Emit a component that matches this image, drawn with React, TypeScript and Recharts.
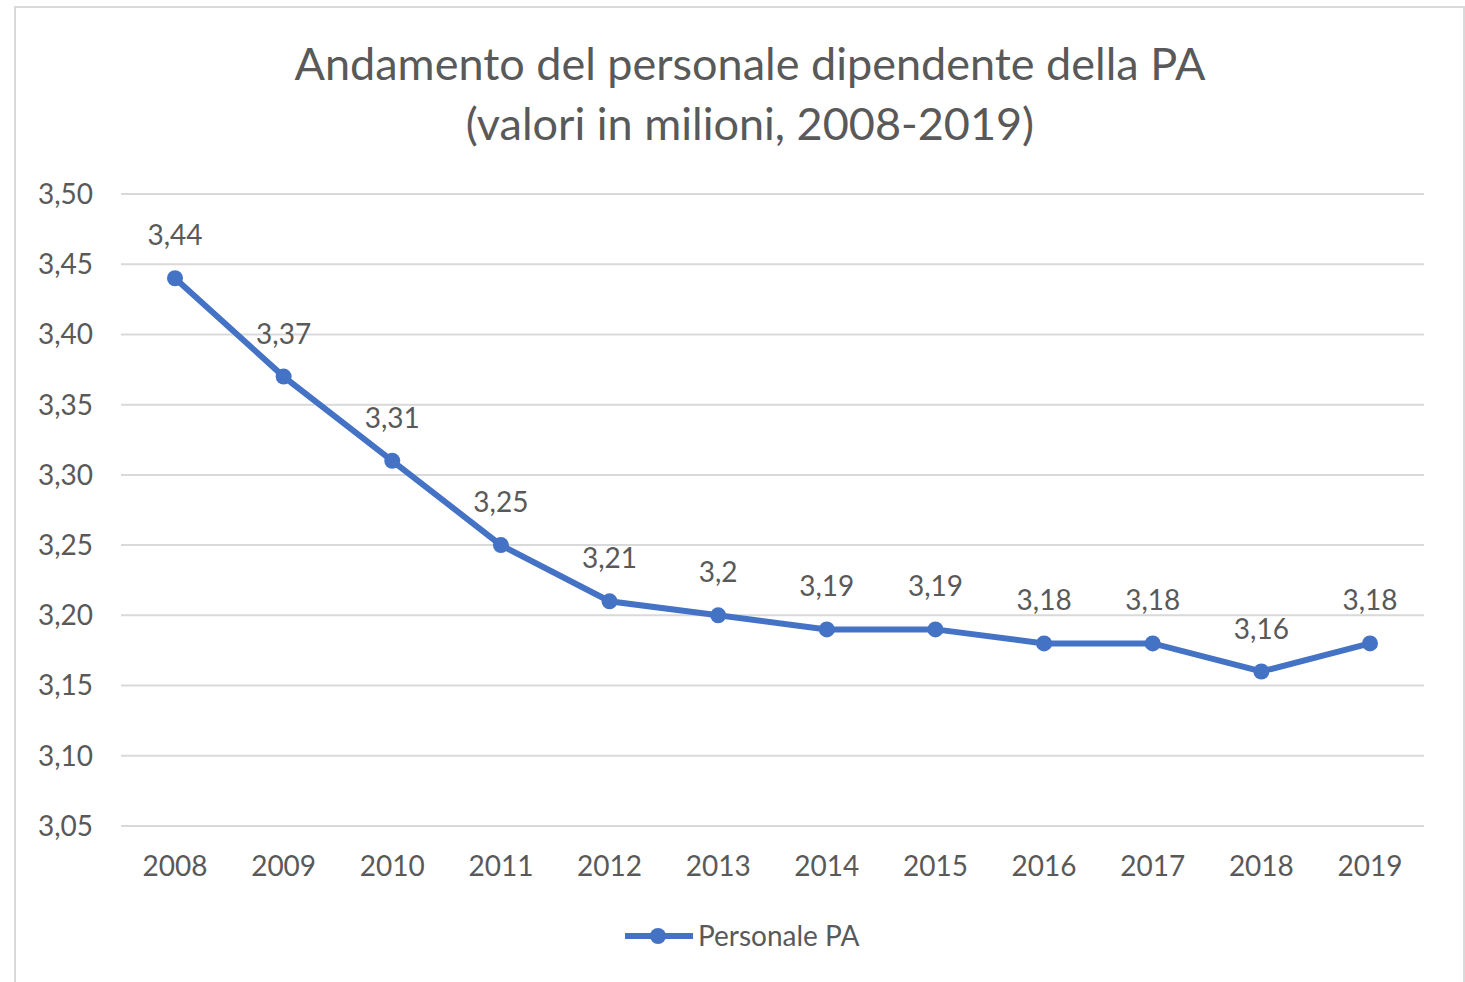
import React from "react";
import { LineChart, Line, XAxis, YAxis, CartesianGrid, LabelList } from "recharts";

const years = ["2008", "2009", "2010", "2011", "2012", "2013", "2014", "2015", "2016", "2017", "2018", "2019"];
const personale = [3.44, 3.37, 3.31, 3.25, 3.21, 3.2, 3.19, 3.19, 3.18, 3.18, 3.16, 3.18];
const yTicks = [3.05, 3.1, 3.15, 3.2, 3.25, 3.3, 3.35, 3.4, 3.45, 3.5];

const data = years.map((y, i) => ({ year: y, value: personale[i] }));

const FONT = "Lato, 'Open Sans', sans-serif";
const TEXT = "#595959";
const BLUE = "#4472c4";

const comma = (v: number, d: number) => v.toFixed(d).replace(".", ",");

export default function App() {
  return (
    <div style={{ position: "absolute", left: 0, top: 0, width: 1465, height: 982, background: "#fff", overflow: "hidden", fontFamily: FONT }}>
      <div style={{ position: "absolute", left: 14, top: 6, width: 1447, height: 1000, border: "2px solid #d9d9d9" }} />
      <div style={{ position: "absolute", left: 0, top: 33, width: 1500, textAlign: "center", color: TEXT, fontSize: 45, lineHeight: "60px" }}>
        Andamento del personale dipendente della PA
        <br />
        (valori in milioni, 2008-2019)
      </div>
      <div style={{ position: "absolute", left: 0, top: 0 }}>
        <LineChart width={1465} height={982} data={data} margin={{ top: 194, right: 41, left: 0, bottom: 96 }}>
          <CartesianGrid vertical={false} stroke="#d9d9d9" strokeWidth={2} />
          <XAxis
            dataKey="year"
            axisLine={false}
            tickLine={false}
            tickSize={0}
            tickMargin={30}
            height={60}
            padding={{ left: 54, right: 54 }}
            tick={{ fill: TEXT, fontSize: 28, fontFamily: FONT }}
          />
          <YAxis
            domain={[3.05, 3.5]}
            ticks={yTicks}
            width={121}
            axisLine={false}
            tickLine={false}
            tickSize={0}
            tickMargin={28}
            tickFormatter={(v) => comma(v, 2)}
            tick={{ fill: TEXT, fontSize: 28, fontFamily: FONT }}
          />
          <Line
            dataKey="value"
            stroke={BLUE}
            strokeWidth={6}
            dot={{ r: 8, fill: BLUE, stroke: BLUE, strokeWidth: 0 }}
            isAnimationActive={false}
          >
            <LabelList
              dataKey="value"
              position="top"
              offset={33}
              formatter={(v: number) => String(v).replace(".", ",")}
              style={{ fill: TEXT, fontSize: 28, fontFamily: FONT }}
            />
          </Line>
        </LineChart>
      </div>
      <svg style={{ position: "absolute", left: 0, top: 0 }} width={1465} height={982}>
        <line x1={625} x2={693} y1={936} y2={936} stroke={BLUE} strokeWidth={6} />
        <circle cx={658} cy={936} r={8} fill={BLUE} />
        <text x={698} y={946} fill={TEXT} fontSize={28} fontFamily={FONT}>Personale PA</text>
      </svg>
    </div>
  );
}
